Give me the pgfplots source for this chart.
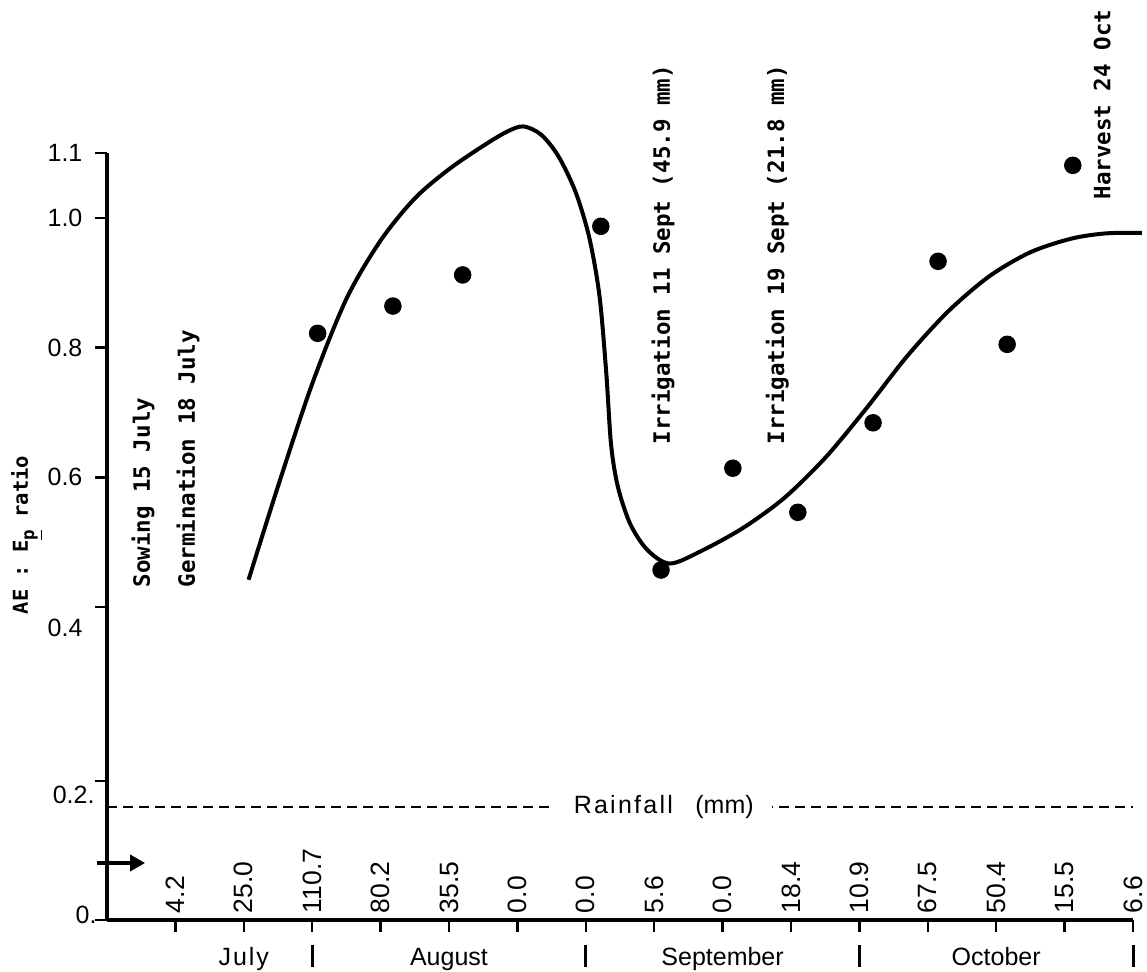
\documentclass[border=0pt]{standalone}
\usepackage{pgfplots}
\usepackage{pgfplotstable}
\pgfplotsset{compat=1.18}
\usetikzlibrary{arrows.meta}
\usepackage{fontspec}
\setmainfont{Liberation Sans}
\newfontfamily\monofont{DejaVu Sans Mono}

% Measured AE : Ep ratios (x = week index from sowing, 4 per month)
\pgfplotstableread{
k     v
3.08  0.822
4.18  0.864
5.20  0.912
7.22  0.987
8.10  0.457
9.15  0.614
10.10 0.546
11.20 0.684
12.15 0.933
13.16 0.805
14.12 1.081
}\obsdata

% Fitted seasonal curve
\pgfplotstableread{
k     v
2.07  0.442
2.50  0.586
3.00  0.744
3.50  0.875
4.00  0.965
4.50  1.030
5.00  1.075
5.50  1.111
5.85  1.133
6.09  1.141
6.35  1.128
6.60  1.095
6.85  1.040
7.05  0.970
7.20  0.880
7.30  0.760
7.37  0.650
7.47  0.585
7.65  0.528
7.90  0.488
8.23  0.467
8.70  0.487
9.30  0.522
9.90  0.568
10.50 0.630
11.10 0.706
11.70 0.787
12.30 0.856
12.90 0.910
13.50 0.947
14.10 0.968
14.60 0.976
15.13 0.977
}\fitdata

% Weekly rainfall totals (mm)
\pgfplotstableread{
k  y        mm
1  -0.0826  4.2
2  -0.0826  25.0
3  -0.0826  110.7
4  -0.0826  80.2
5  -0.0826  35.5
6  -0.0826  0.0
7  -0.0826  0.0
8  -0.0826  5.6
9  -0.0826  0.0
10 -0.0826  18.4
11 -0.0826  10.9
12 -0.0826  67.5
13 -0.0826  50.4
14 -0.0826  15.5
15 -0.0826  6.6
}\raindata

\begin{document}
\begin{tikzpicture}
\begin{axis}[
  scale only axis,
  width=410.4pt, height=306.8pt,
  xmin=0, xmax=15,
  ymin=-0.0826, ymax=1.1,
  axis x line=bottom, axis y line=left,
  axis line style={line width=1.4pt, -},
  xtick={1,...,15},
  xticklabels={},
  ytick={-0.0826,0.132,0.4,0.6,0.8,1.0,1.1},
  yticklabels={,,,0.6,0.8,1.0,1.1},
  tick align=outside,
  major tick length=4.8pt,
  tick style={line width=1pt, black},
  ticklabel style={font=\fontsize{10}{12}\selectfont},
  yticklabel style={xshift=-1.5pt},
  clip=false,
]

% lower tick labels, set just beneath their ticks
\begin{scope}[every node/.style={anchor=east, inner sep=0pt, font=\fontsize{10}{12}\selectfont}]
\node[xshift=-4pt, yshift=2pt] at (axis cs:0,-0.0826) {0.};
\node[xshift=-4.8pt, yshift=-5.6pt] at (axis cs:0,0.132) {0.2.};
\node[xshift=-9.6pt, yshift=-8.4pt] at (axis cs:0,0.4) {0.4};
\end{scope}

% rainfall band
\draw[line width=0.6pt, dash pattern=on 4pt off 2.4pt]
  (axis cs:0,0.0917) -- (axis cs:15,0.0917);
\node[fill=white, inner xsep=7.5pt, inner ysep=2pt,
      font=\fontsize{10}{12}\selectfont]
  at (axis cs:8.14,0.0917)
  {\addfontfeatures{LetterSpace=9}Rainfall\hspace{0.9em}{\addfontfeatures{LetterSpace=0}(mm)}};
\draw[line width=1.3pt, -{Triangle[length=6pt, width=6.5pt]}]
  (axis cs:-0.15,0.0053) -- (axis cs:0.556,0.0053);

\addplot[draw=none, mark=none, nodes near coords, point meta=explicit symbolic,
  every node near coord/.append style={rotate=90, anchor=west, inner xsep=2.6pt,
    inner ysep=0pt, font=\fontsize{10.6}{12}\selectfont}]
  table[x=k, y=y, meta=mm] {\raindata};

% fitted curve and observations
\addplot[line width=1.6pt, smooth, tension=0.5, mark=none] table[x=k, y=v] {\fitdata};
\addplot[only marks, mark=*, mark size=3.3pt, black] table[x=k, y=v] {\obsdata};

% crop events
\begin{scope}[every node/.style={rotate=90, anchor=west, inner sep=0pt,
    font=\monofont\bfseries\fontsize{9}{10}\selectfont}]
\node at (axis cs:0.526,0.4293) {Sowing 15 July};
\node at (axis cs:1.184,0.4293) {Germination 18 July};
\node at (axis cs:8.13,0.650) {Irrigation 11 Sept (45.9 mm)};
\node at (axis cs:9.80,0.650) {Irrigation 19 Sept (21.8 mm)};
\node at (axis cs:14.55,1.0275) {Harvest 24 Oct};
\end{scope}

% y axis title
\node[rotate=90, font=\monofont\bfseries\fontsize{8.2}{10}\selectfont]
  at (axis cs:-1.17,0.511)
  {AE : E\raisebox{-0.55ex}{\fontsize{7}{7}\selectfont\underline{p}} ratio};

% months
\begin{scope}[every node/.style={anchor=base, font=\fontsize{10}{12}\selectfont}]
\node at (axis cs:2,-0.152) {\addfontfeatures{LetterSpace=8}July};
\node at (axis cs:5,-0.152) {August};
\node at (axis cs:9,-0.152) {September};
\node at (axis cs:13,-0.152) {October};
\end{scope}
\pgfplotsinvokeforeach{3,7,11,15}{
  \draw[line width=1.2pt] (axis cs:#1,-0.1211) -- (axis cs:#1,-0.1551);
}

\coordinate (bbll) at (axis cs:-1.564,-0.1627);
\coordinate (bbur) at (axis cs:15.205,1.3359);
\end{axis}
\pgfresetboundingbox
\path[use as bounding box] (bbll) rectangle (bbur);
\end{tikzpicture}
\end{document}
